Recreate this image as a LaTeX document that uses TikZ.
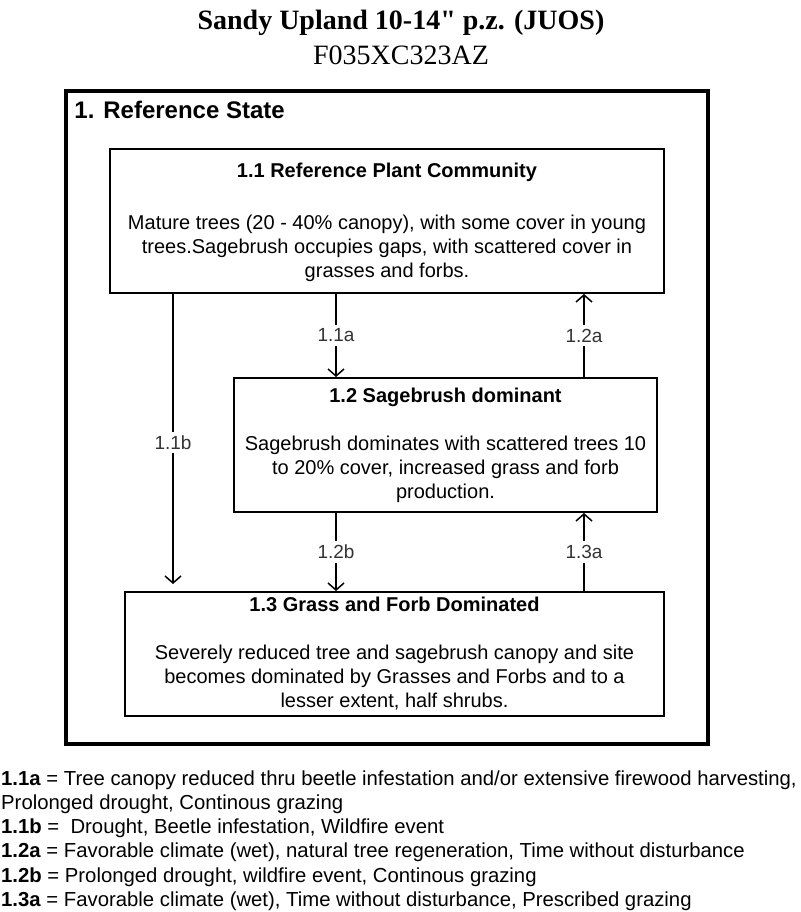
\documentclass[tikz,border=0pt]{standalone}
\usepackage{fontspec}
\setmainfont{Liberation Serif}
\setsansfont{Liberation Sans}
\usetikzlibrary{arrows.meta,positioning,calc}

\tikzset{
  statebox/.style={draw, line width=2pt, rectangle, inner sep=0pt},
  boxtitle/.style={font=\sffamily\bfseries\fontsize{20}{24}\selectfont, anchor=base, inner sep=0pt},
  boxtext/.style={font=\sffamily\fontsize{20}{24.3}\selectfont, align=center, anchor=base, inner sep=0pt},
  arrowlabel/.style={font=\sffamily\fontsize{19}{22}\selectfont, fill=white, inner sep=4pt, text=black!80},
  trans/.style={->, line width=1.5pt},
  legendtext/.style={font=\sffamily\fontsize{20.3}{24}\selectfont, anchor=base west, inner sep=0pt}
}

\begin{document}
\begin{tikzpicture}[x=1pt,y=-1pt,>={Straight Barb[length=7pt,width=16pt]}]
\useasboundingbox (0,0) rectangle (800,912);

% site name
\node[font=\bfseries\fontsize{28}{32}\selectfont, anchor=base] (title) at (401,30) {Sandy Upland 10-14{\addfontfeature{Ligatures=TeXOff}"} p.z. (JUOS)};
\node[font=\fontsize{28}{32}\selectfont, anchor=base] (siteid) at (401,65) {F035XC323AZ};

% the state
\node[statebox, line width=3.5pt, minimum width=642pt, minimum height=653pt] (state) at (387,417.5) {};
\node[font=\sffamily\bfseries\fontsize{24}{28}\selectfont, anchor=base west, inner sep=0pt] (statename) at ($(state.north west)+(10,29)$) {1. Reference State};

% the plant communities (body text: base = last line)
\node[statebox, minimum width=554pt, minimum height=144pt] (b11) at (387,221) {};
\node[boxtitle] (b11t) at ($(b11.north)+(0,30)$) {1.1 Reference Plant Community};
\node[boxtext] (b11b) at ($(b11.north)+(0,129.6)$) {Mature trees (20 - 40\% canopy), with some cover in young\\trees.Sagebrush occupies gaps, with scattered cover in\\grasses and forbs.};

\node[statebox, minimum width=423pt, minimum height=134pt] (b12) at (445.5,445) {};
\node[boxtitle] (b12t) at ($(b12.north)+(0,25)$) {1.2 Sagebrush dominant};
\node[boxtext] (b12b) at ($(b12.north)+(0,121.6)$) {Sagebrush dominates with scattered trees 10\\to 20\% cover, increased grass and forb\\production.};

\node[statebox, minimum width=539pt, minimum height=124pt] (b13) at (394.5,654) {};
\node[boxtitle] (b13t) at ($(b13.north)+(0,20)$) {1.3 Grass and Forb Dominated};
\node[boxtext] (b13b) at ($(b13.north)+(0,116.6)$) {Severely reduced tree and sagebrush canopy and site\\becomes dominated by Grasses and Forbs and to a\\lesser extent, half shrubs.};

% the pathways
\coordinate (xl) at (173,0);
\coordinate (xm) at (336,0);
\coordinate (xr) at (584,0);
\draw[trans] (b11.south -| xm) -- node[arrowlabel] (l11a) {1.1a} (b12.north -| xm);
\draw[trans] (b12.north -| xr) -- node[arrowlabel] (l12a) {1.2a} (b11.south -| xr);
\draw[trans, shorten >=7pt] (b11.south -| xl) -- node[arrowlabel] (l11b) {1.1b} (b13.north -| xl);
\draw[trans] (b12.south -| xm) -- node[arrowlabel] (l12b) {1.2b} (b13.north -| xm);
\draw[trans] (b13.north -| xr) -- node[arrowlabel] (l13a) {1.3a} (b12.south -| xr);

% legend
\foreach \txt [count=\i] in {
  {\textbf{1.1a} = Tree canopy reduced thru beetle infestation and/or extensive firewood harvesting,},
  {Prolonged drought, Continous grazing},
  {\textbf{1.1b} =\ \ Drought, Beetle infestation, Wildfire event},
  {\textbf{1.2a} = Favorable climate (wet), natural tree regeneration, Time without disturbance},
  {\textbf{1.2b} = Prolonged drought, wildfire event, Continous grazing},
  {\textbf{1.3a} = Favorable climate (wet), Time without disturbance, Prescribed grazing}}
  \node[legendtext] (leg\i) at (1,{785+(\i-1)*24.3}) {\txt};

\end{tikzpicture}
\end{document}
